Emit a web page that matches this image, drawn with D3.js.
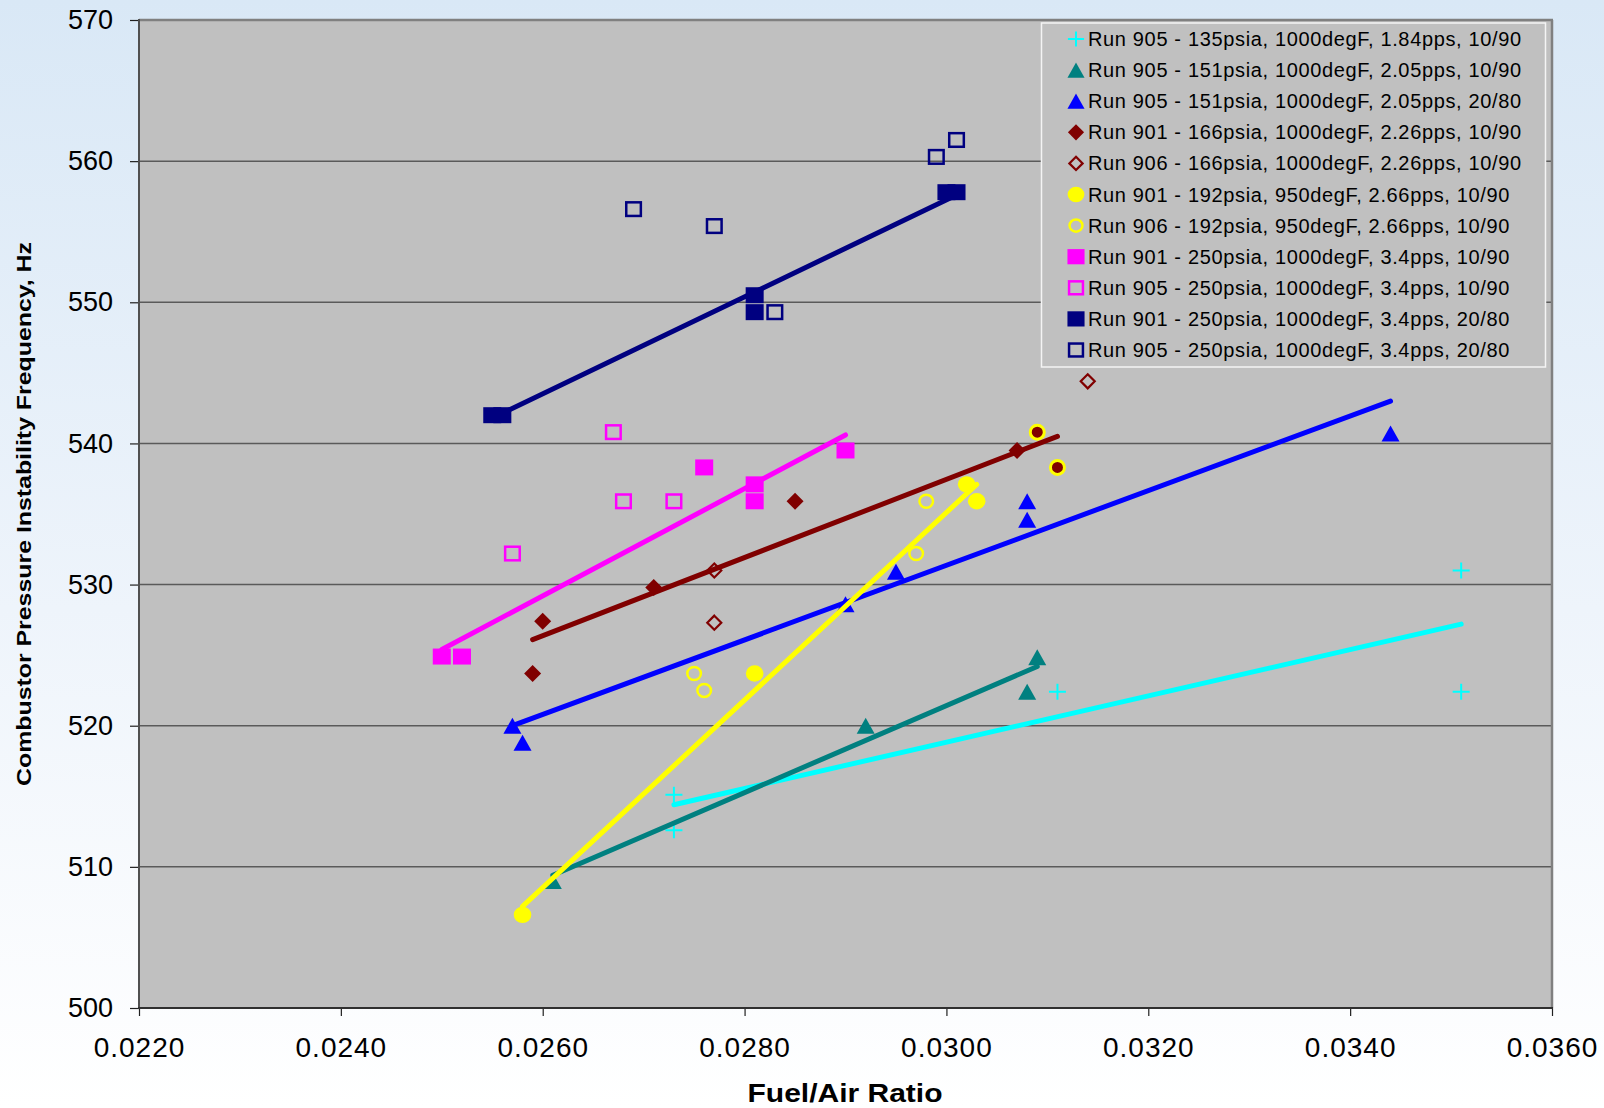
<!DOCTYPE html>
<html>
<head>
<meta charset="utf-8">
<script src="https://cdn.jsdelivr.net/npm/d3@7"></script>
<style>
  html, body { margin: 0; padding: 0; background: #ffffff; }
  svg { display: block; }
  text { font-family: "Liberation Sans", Arial, Helvetica, sans-serif; fill: #000; }
</style>
</head>
<body>
<svg id="chart" width="1604" height="1108"></svg>
<script>
// ---------------- DATA ----------------
const xTicks = [0.022, 0.024, 0.026, 0.028, 0.030, 0.032, 0.034, 0.036];
const yTicks = [500, 510, 520, 530, 540, 550, 560, 570];
const xTitle = "Fuel/Air Ratio";
const yTitle = "Combustor Pressure Instability Frequency, Hz";

const seriesNames = [
  "Run 905 - 135psia, 1000degF, 1.84pps, 10/90",
  "Run 905 - 151psia, 1000degF, 2.05pps, 10/90",
  "Run 905 - 151psia, 1000degF, 2.05pps, 20/80",
  "Run 901 - 166psia, 1000degF, 2.26pps, 10/90",
  "Run 906 - 166psia, 1000degF, 2.26pps, 10/90",
  "Run 901 - 192psia, 950degF, 2.66pps, 10/90",
  "Run 906 - 192psia, 950degF, 2.66pps, 10/90",
  "Run 901 - 250psia, 1000degF, 3.4pps, 10/90",
  "Run 905 - 250psia, 1000degF, 3.4pps, 10/90",
  "Run 901 - 250psia, 1000degF, 3.4pps, 20/80",
  "Run 905 - 250psia, 1000degF, 3.4pps, 20/80"
];

const run905_135_x  = [0.0273, 0.0273, 0.0311, 0.0351, 0.0351];
const run905_135_y  = [515.1, 512.6, 522.4, 531.0, 522.4];
const run905_151a_x = [0.0261, 0.0292, 0.0308, 0.0309];
const run905_151a_y = [509.0, 520.0, 522.4, 524.85];
const run905_151b_x = [0.0257, 0.0258, 0.0290, 0.0295, 0.0308, 0.0308, 0.0344];
const run905_151b_y = [520.0, 518.8, 528.6, 530.9, 535.9, 534.6, 540.7];
const run901_166_x  = [0.0259, 0.0260, 0.0271, 0.0285, 0.0307, 0.0309, 0.0311];
const run901_166_y  = [523.7, 527.4, 529.8, 535.9, 539.5, 540.8, 538.3];
const run901_166_ringed = [5, 6];   // points shown as ringed dots
const run906_166_x  = [0.0277, 0.0277, 0.0314];
const run906_166_y  = [531.0, 527.3, 544.4];
const run901_192_x  = [0.0258, 0.0281, 0.0302, 0.0303];
const run901_192_y  = [506.6, 523.7, 537.1, 535.9];
const run906_192_x  = [0.0275, 0.0276, 0.0297, 0.0298];
const run906_192_y  = [523.7, 522.5, 532.2, 535.9];
const run901_250a_x = [0.0250, 0.0252, 0.0276, 0.0281, 0.0281, 0.0290];
const run901_250a_y = [524.9, 524.9, 538.3, 537.1, 535.9, 539.5];
const run905_250a_x = [0.0257, 0.0267, 0.0268, 0.0273];
const run905_250a_y = [532.2, 540.8, 535.9, 535.9];
const run901_250b_x = [0.0255, 0.0256, 0.0281, 0.0281, 0.0300, 0.0301];
const run901_250b_y = [542.0, 542.0, 550.5, 549.3, 557.8, 557.8];
const run905_250b_x = [0.0269, 0.0277, 0.0283, 0.0299, 0.0301];
const run905_250b_y = [556.6, 555.4, 549.3, 560.3, 561.5];

// Linear trend lines (end points)
const trend905_135_x  = [0.0273, 0.0351];  const trend905_135_y  = [514.4, 527.2];
const trend905_151a_x = [0.0261, 0.0309];  const trend905_151a_y = [509.4, 524.2];
const trend905_151b_x = [0.0257, 0.0344];  const trend905_151b_y = [520.0, 543.0];
const trend901_166_x  = [0.0259, 0.0311];  const trend901_166_y  = [526.1, 540.5];
const trend901_192_x  = [0.0258, 0.0303];  const trend901_192_y  = [507.2, 537.1];
const trend901_250a_x = [0.0250, 0.0290];  const trend901_250a_y = [525.4, 540.6];
const trend901_250b_x = [0.0255, 0.0301];  const trend901_250b_y = [541.8, 557.6];

// ---------------- STYLE / LAYOUT ----------------
const W = 1604, H = 1108;
const L = 139, R = 1552, T = 20, B = 1008;

const series = [
  { name: seriesNames[0],  xs: run905_135_x,  ys: run905_135_y,  shape: "plus",       color: "#00ffff", tx: trend905_135_x,  ty: trend905_135_y },
  { name: seriesNames[1],  xs: run905_151a_x, ys: run905_151a_y, shape: "triangle",   color: "#008080", tx: trend905_151a_x, ty: trend905_151a_y },
  { name: seriesNames[2],  xs: run905_151b_x, ys: run905_151b_y, shape: "triangle",   color: "#0000ff", tx: trend905_151b_x, ty: trend905_151b_y },
  { name: seriesNames[3],  xs: run901_166_x,  ys: run901_166_y,  shape: "diamond",    color: "#800000", tx: trend901_166_x,  ty: trend901_166_y, ringed: run901_166_ringed },
  { name: seriesNames[4],  xs: run906_166_x,  ys: run906_166_y,  shape: "diamondOpen",color: "#800000" },
  { name: seriesNames[5],  xs: run901_192_x,  ys: run901_192_y,  shape: "circle",     color: "#ffff00", tx: trend901_192_x,  ty: trend901_192_y },
  { name: seriesNames[6],  xs: run906_192_x,  ys: run906_192_y,  shape: "circleOpen", color: "#ffff00" },
  { name: seriesNames[7],  xs: run901_250a_x, ys: run901_250a_y, shape: "square",     color: "#ff00ff", tx: trend901_250a_x, ty: trend901_250a_y },
  { name: seriesNames[8],  xs: run905_250a_x, ys: run905_250a_y, shape: "squareOpen", color: "#ff00ff" },
  { name: seriesNames[9],  xs: run901_250b_x, ys: run901_250b_y, shape: "square",     color: "#000080", tx: trend901_250b_x, ty: trend901_250b_y },
  { name: seriesNames[10], xs: run905_250b_x, ys: run905_250b_y, shape: "squareOpen", color: "#000080" }
];

const svg = d3.select("#chart");

// background gradient
const defs = svg.append("defs");
const grad = defs.append("linearGradient").attr("id", "bg").attr("x1", 0).attr("y1", 0).attr("x2", 0).attr("y2", 1);
grad.append("stop").attr("offset", "0%").attr("stop-color", "#d9e8f6");
grad.append("stop").attr("offset", "55%").attr("stop-color", "#eef4fb");
grad.append("stop").attr("offset", "100%").attr("stop-color", "#ffffff");
svg.append("rect").attr("width", W).attr("height", H).attr("fill", "url(#bg)");

const x = d3.scaleLinear().domain([xTicks[0], xTicks[xTicks.length - 1]]).range([L, R]);
const y = d3.scaleLinear().domain([yTicks[0], yTicks[yTicks.length - 1]]).range([B, T]);

// plot area
svg.append("rect").attr("x", L).attr("y", T).attr("width", R - L).attr("height", B - T)
  .attr("fill", "#c0c0c0");

// gridlines
svg.append("g").selectAll("line").data(yTicks.slice(1, -1)).join("line")
  .attr("x1", L).attr("x2", R).attr("y1", d => y(d)).attr("y2", d => y(d))
  .attr("stroke", "#5a5a5a").attr("stroke-width", 1.5);

// frame top/right
svg.append("line").attr("x1", L).attr("x2", R + 1).attr("y1", T).attr("y2", T)
  .attr("stroke", "#808080").attr("stroke-width", 2.5);
svg.append("line").attr("x1", R).attr("x2", R).attr("y1", T).attr("y2", B)
  .attr("stroke", "#808080").attr("stroke-width", 2.5);

// axes
const yAxis = d3.axisLeft(y).tickValues(yTicks).tickSize(9).tickPadding(17).tickFormat(d3.format("d"));
const gy = svg.append("g").attr("transform", `translate(${L},0)`).call(yAxis);
gy.select(".domain").remove();
gy.selectAll(".tick line").attr("stroke", "#202020").attr("stroke-width", 1.2);
gy.selectAll(".tick text").style("font-size", "27px").attr("fill", "#000")
  .style("font-family", '"Liberation Sans", Arial, sans-serif');

const xAxis = d3.axisBottom(x).tickValues(xTicks).tickSize(8).tickFormat(d3.format(".4f"));
const gx = svg.append("g").attr("transform", `translate(0,${B})`).call(xAxis);
gx.select(".domain").remove();
gx.selectAll(".tick line").attr("stroke", "#202020").attr("stroke-width", 1.2);
gx.selectAll(".tick text").style("font-size", "28px").style("letter-spacing", "1px")
  .attr("y", 49).attr("dy", 0).attr("fill", "#000")
  .style("font-family", '"Liberation Sans", Arial, sans-serif');

// axis lines
svg.append("line").attr("x1", L).attr("x2", L).attr("y1", T - 1).attr("y2", B)
  .attr("stroke", "#505050").attr("stroke-width", 2);
svg.append("line").attr("x1", L - 1).attr("x2", R + 1).attr("y1", B).attr("y2", B)
  .attr("stroke", "#303030").attr("stroke-width", 2);

// axis titles
svg.append("text")
  .attr("transform", `translate(31,${(T + B) / 2 + 0}) rotate(-90)`)
  .attr("text-anchor", "middle")
  .attr("textLength", 544).attr("lengthAdjust", "spacingAndGlyphs")
  .style("font-size", "21px").style("font-weight", "bold")
  .text(yTitle);
svg.append("text")
  .attr("x", 845).attr("y", 1102)
  .attr("text-anchor", "middle")
  .attr("textLength", 195).attr("lengthAdjust", "spacingAndGlyphs")
  .style("font-size", "25px").style("font-weight", "bold")
  .text(xTitle);

// marker drawing
function drawMarker(g, shape, color, cx, cy, k, ringed) {
  if (ringed) {
    g.append("circle").attr("cx", cx).attr("cy", cy).attr("r", 7 * k)
      .attr("fill", color).attr("stroke", "#ffff00").attr("stroke-width", 3 * k);
    return;
  }
  switch (shape) {
    case "plus":
      g.append("path")
        .attr("d", `M${cx - 8.5 * k},${cy}H${cx + 8.5 * k}M${cx},${cy - 8 * k}V${cy + 8 * k}`)
        .attr("stroke", color).attr("stroke-width", 2).attr("fill", "none");
      break;
    case "triangle":
      g.append("path")
        .attr("d", `M${cx},${cy - 8 * k}L${cx + 9 * k},${cy + 8 * k}L${cx - 9 * k},${cy + 8 * k}Z`)
        .attr("fill", color);
      break;
    case "diamond":
      g.append("path")
        .attr("d", `M${cx},${cy - 8.5 * k}L${cx + 8.5 * k},${cy}L${cx},${cy + 8.5 * k}L${cx - 8.5 * k},${cy}Z`)
        .attr("fill", color);
      break;
    case "diamondOpen":
      g.append("path")
        .attr("d", `M${cx},${cy - 7 * k}L${cx + 7 * k},${cy}L${cx},${cy + 7 * k}L${cx - 7 * k},${cy}Z`)
        .attr("fill", "none").attr("stroke", color).attr("stroke-width", 2.2);
      break;
    case "circle":
      g.append("ellipse").attr("cx", cx).attr("cy", cy).attr("rx", 8.8 * k).attr("ry", 8.2 * k)
        .attr("fill", color);
      break;
    case "circleOpen":
      g.append("ellipse").attr("cx", cx).attr("cy", cy).attr("rx", 6.8 * k).attr("ry", 6.5 * k)
        .attr("fill", "none").attr("stroke", color).attr("stroke-width", 2.5);
      break;
    case "square":
      g.append("rect").attr("x", cx - 9 * k).attr("y", cy - 8 * k).attr("width", 18 * k).attr("height", 16 * k)
        .attr("fill", color);
      break;
    case "squareOpen":
      g.append("rect").attr("x", cx - 7.3 * k).attr("y", cy - 6.8 * k).attr("width", 14.6 * k).attr("height", 13.6 * k)
        .attr("fill", "none").attr("stroke", color).attr("stroke-width", 2.5);
      break;
  }
}

// markers
const gm = svg.append("g");
series.forEach(s => {
  s.xs.forEach((xv, i) => {
    const ringed = s.ringed && s.ringed.includes(i);
    drawMarker(gm, s.shape, s.color, x(xv), y(s.ys[i]), 1, ringed);
  });
});

// trend lines
const line = d3.line().x(d => x(d[0])).y(d => y(d[1]));
const gt = svg.append("g");
series.filter(s => s.tx).forEach(s => {
  gt.append("path")
    .attr("d", line(d3.zip(s.tx, s.ty)))
    .attr("fill", "none").attr("stroke", s.color)
    .attr("stroke-width", 5).attr("stroke-linecap", "round");
});

// legend
const lg = svg.append("g");
lg.append("rect").attr("x", 1041.5).attr("y", 23).attr("width", 504).attr("height", 344)
  .attr("fill", "#c0c0c0").attr("stroke", "#f4f4f4").attr("stroke-width", 1.5);
series.forEach((s, i) => {
  const by = 46 + i * 31.1;
  drawMarker(lg, s.shape, s.color, 1076, by - 7, 0.95, false);
  lg.append("text").attr("x", 1088).attr("y", by)
    .style("font-size", "20px").style("letter-spacing", "0.65px")
    .text(s.name);
});
</script>
</body>
</html>
